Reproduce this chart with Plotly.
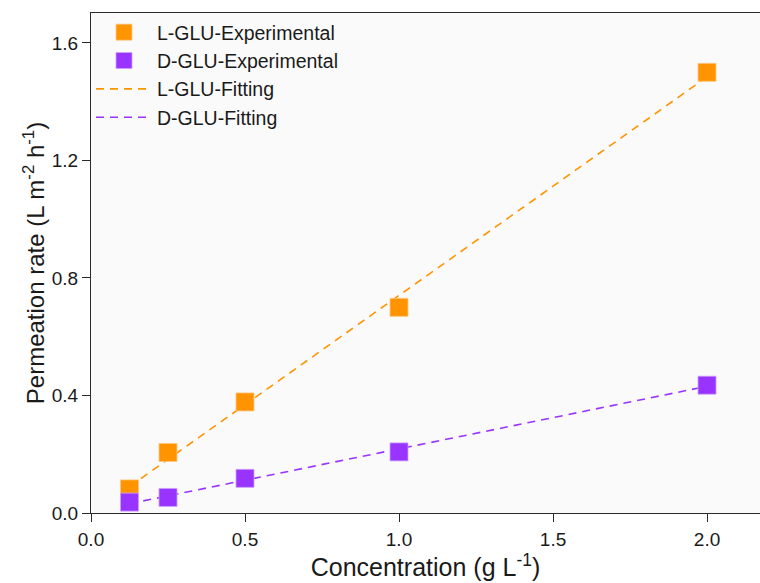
import numpy as np
import plotly.graph_objects as go

# Feed concentration (g L^-1)
concentration = [0.125, 0.25, 0.5, 1.0, 2.0]
# Measured permeation rates (L m^-2 h^-1)
l_glu_rate = [0.082, 0.206, 0.378, 0.70, 1.50]
d_glu_rate = [0.037, 0.053, 0.118, 0.208, 0.435]

x_ticks = [0.0, 0.5, 1.0, 1.5, 2.0]
y_ticks = [0.0, 0.4, 0.8, 1.2, 1.6]

ORANGE = "#FF9400"
PURPLE = "#9933FF"
FONT = "Liberation Sans, Arial, sans-serif"

# Linear least-squares fits of the experimental points
x_arr = np.array(concentration)
l_fit = np.polyval(np.polyfit(x_arr, l_glu_rate, 1), x_arr)
d_fit = np.polyval(np.polyfit(x_arr, d_glu_rate, 1), x_arr)

fig = go.Figure()
fig.add_trace(go.Scatter(
    x=concentration, y=l_fit, mode="lines", name="L-GLU-Fitting",
    line=dict(color=ORANGE, width=1.6, dash="8px,6px"),
    legendrank=3, legendgroup="c"))
fig.add_trace(go.Scatter(
    x=concentration, y=d_fit, mode="lines", name="D-GLU-Fitting",
    line=dict(color=PURPLE, width=1.6, dash="8px,6px"),
    legendrank=4, legendgroup="d"))
fig.add_trace(go.Scatter(
    x=concentration, y=l_glu_rate, mode="markers", name="L-GLU-Experimental",
    marker=dict(symbol="square", size=18, color=ORANGE,
                line=dict(color="#FFC680", width=0.8)),
    legendrank=1, legendgroup="a"))
fig.add_trace(go.Scatter(
    x=concentration, y=d_glu_rate, mode="markers", name="D-GLU-Experimental",
    marker=dict(symbol="square", size=18, color=PURPLE,
                line=dict(color="#CDA0FF", width=0.8)),
    legendrank=2, legendgroup="b"))

axis_common = dict(
    showgrid=False, zeroline=False, showline=True,
    linecolor="#2b2b2b", linewidth=1.3,
    ticks="outside", ticklen=8, tickwidth=1.2, tickcolor="#2b2b2b",
    tickfont=dict(family=FONT, size=19, color="#1a1a1a"),
)

fig.update_layout(
    width=760, height=583,
    margin=dict(l=91, r=0, t=13, b=70),
    paper_bgcolor="#ffffff", plot_bgcolor="#fafafa",
    font=dict(family=FONT, color="#1a1a1a"),
    xaxis=dict(
        range=[0, 2.172], tickvals=x_ticks, tickformat=".1f", mirror=True,
        ticklabelstandoff=1,
        title=dict(text="Concentration (g L<sup>-1</sup>)",
                   font=dict(family=FONT, size=25), standoff=6),
        **axis_common),
    yaxis=dict(
        range=[0, 1.702], tickvals=y_ticks, tickformat=".1f",
        title=dict(text="Permeation rate (L m<sup>-2</sup> h<sup>-1</sup>)",
                   font=dict(family=FONT, size=24), standoff=0),
        **axis_common),
    legend=dict(
        x=0.0, y=1.0, xanchor="left", yanchor="top",
        bgcolor="rgba(0,0,0,0)", borderwidth=0,
        font=dict(family=FONT, size=19.5, color="#1a1a1a"),
        tracegroupgap=0, itemwidth=56, traceorder="grouped",
    ),
    showlegend=True,
)

fig.write_html("out.html")
